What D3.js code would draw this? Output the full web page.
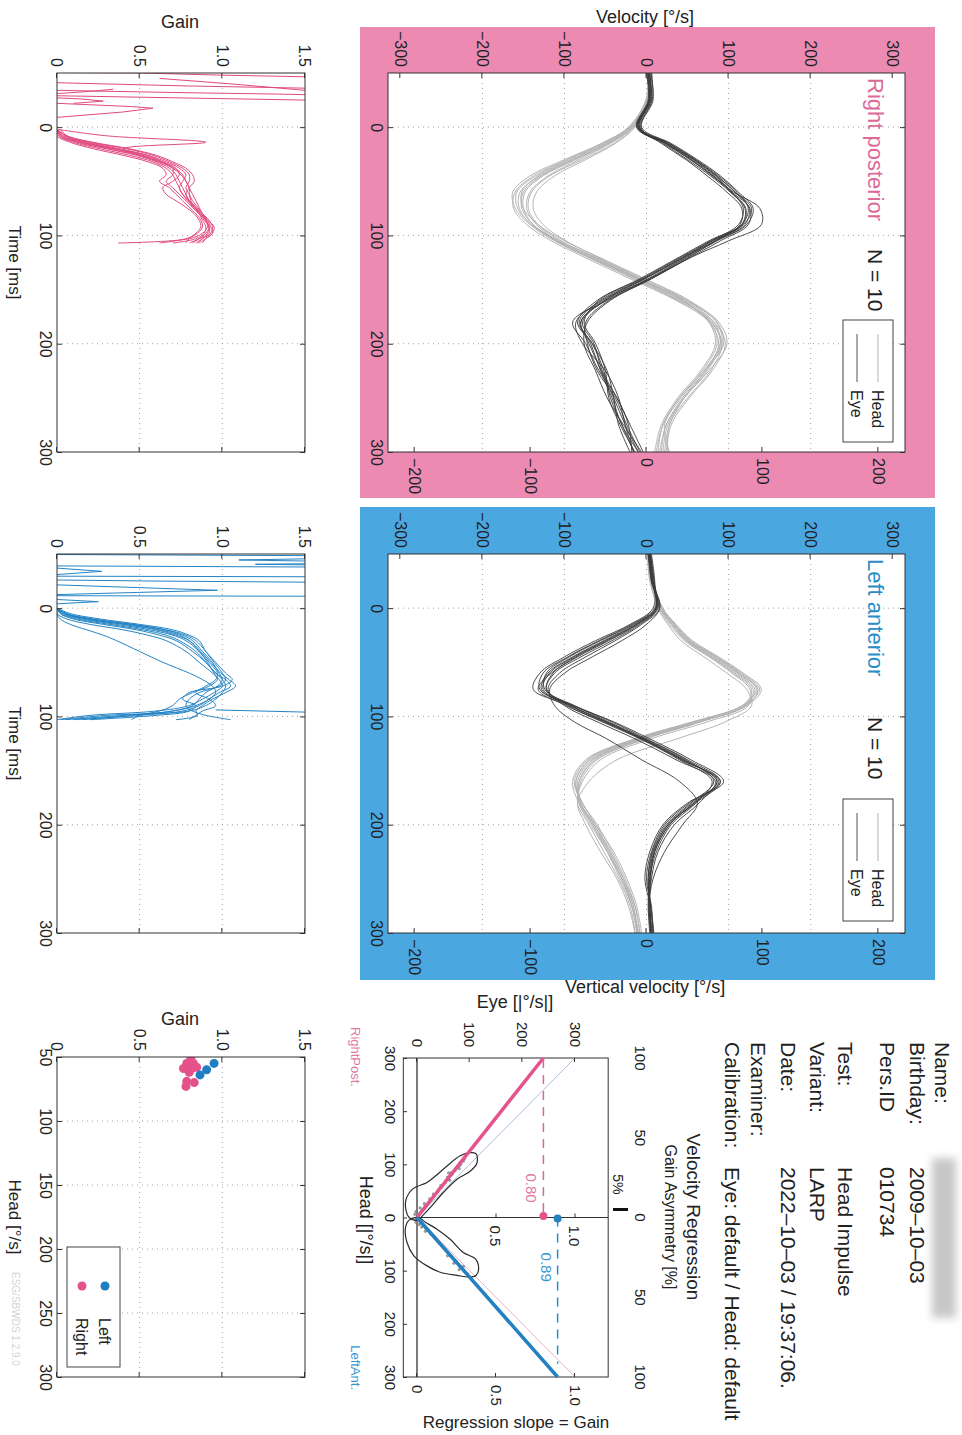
<!DOCTYPE html>
<html>
<head>
<meta charset="utf-8">
<script src="https://cdn.jsdelivr.net/npm/d3@7"></script>
<style>
  body { margin: 0; background: #fff; }
  svg { display: block; }
</style>
</head>
<body>
<svg id="chart" width="962" height="1435"></svg>
<script>
// ---------- data ----------
const velTicks = [-300, -200, -100, 0, 100, 200, 300]
const vel2Ticks = [-200, -100, 0, 100, 200]
const timeTicks = [0, 100, 200, 300]
const gainTicks = [0, 0.5, 1.0, 1.5]
const headTicks = [50, 100, 150, 200, 250, 300]
const regHeadTicks = [-300, -200, -100, 0, 100, 200, 300]
const regEyeTicks = [0, 100, 200, 300]
const regGainTicks = [0, 0.5, 1.0]
const asymTicks = [-100, -50, 0, 50, 100]

const traceTimes = [-50, -25, 0, 15, 30, 45, 60, 75, 90, 105, 120, 140, 160, 180, 200, 225, 250, 275, 300]

// Right posterior, head traces [°/s]
const rpHead = [
  [5, 2, -18, -48, -88, -128, -150, -152, -138, -108, -66, -8, 48, 85, 92, 72, 44, 24, 16],
  [3, 0, -20, -52, -95, -135, -158, -157, -140, -110, -70, -12, 42, 80, 90, 74, 46, 26, 20],
  [6, 3, -15, -40, -78, -118, -140, -144, -132, -104, -64, -10, 44, 78, 86, 68, 40, 20, 12],
  [2, -1, -22, -55, -100, -142, -163, -160, -142, -112, -72, -15, 40, 82, 96, 80, 52, 30, 24],
  [4, 1, -17, -44, -82, -120, -142, -146, -134, -108, -70, -16, 38, 76, 88, 72, 46, 28, 22],
  [5, 2, -19, -50, -92, -132, -152, -150, -132, -100, -58, -2, 52, 86, 94, 70, 40, 20, 14],
  [7, 3, -14, -38, -74, -112, -134, -138, -126, -98, -60, -8, 44, 76, 84, 66, 38, 18, 10],
  [3, 0, -21, -54, -97, -138, -160, -162, -146, -116, -76, -20, 36, 78, 92, 78, 50, 28, 26],
  [4, 2, -16, -46, -86, -126, -148, -150, -138, -110, -68, -10, 46, 82, 90, 70, 42, 22, 28],
  [6, 2, -18, -47, -90, -130, -154, -155, -140, -106, -62, -4, 50, 88, 98, 76, 46, 24, 18]
]
// Right posterior, eye traces
const rpEye = [
  [3, 6, -8, 24, 58, 85, 108, 125, 120, 84, 46, -2, -52, -80, -70, -55, -40, -26, -10],
  [0, 2, -12, 20, 50, 78, 102, 120, 116, 80, 44, -4, -56, -82, -66, -52, -44, -30, -15],
  [5, 8, -6, 30, 62, 90, 112, 130, 122, 86, 50, 4, -46, -74, -72, -60, -38, -24, -8],
  [1, 3, -10, 22, 54, 80, 106, 138, 140, 100, 55, 6, -48, -90, -74, -58, -36, -22, -18],
  [4, 5, -9, 26, 57, 84, 104, 118, 112, 78, 42, -6, -58, -76, -62, -50, -46, -32, -14],
  [2, 4, -11, 28, 60, 88, 110, 124, 116, 76, 40, -8, -60, -84, -66, -48, -40, -34, -20],
  [6, 7, -7, 18, 48, 74, 98, 116, 114, 84, 52, 6, -44, -72, -76, -62, -48, -28, -6],
  [0, 3, -12, 24, 55, 82, 104, 126, 124, 90, 54, 4, -50, -78, -64, -54, -36, -20, -4],
  [3, 5, -9, 27, 59, 86, 108, 128, 118, 80, 46, -2, -54, -86, -78, -50, -34, -26, -16],
  [2, 4, -10, 23, 53, 81, 103, 121, 117, 83, 48, 2, -50, -80, -68, -56, -42, -30, -10]
]
// Left anterior, head traces
const laHead = [
  [3, 6, 18, 34, 52, 84, 113, 136, 121, 64, -4, -66, -84, -80, -64, -44, -28, -16, -10],
  [2, 5, 16, 30, 48, 78, 106, 128, 118, 66, 2, -60, -80, -82, -68, -48, -30, -18, -12],
  [4, 8, 20, 36, 56, 88, 118, 140, 122, 58, -10, -72, -88, -78, -60, -42, -26, -14, -8],
  [1, 4, 15, 28, 46, 76, 104, 126, 124, 74, 8, -56, -78, -84, -70, -52, -34, -20, -14],
  [5, 7, 19, 35, 54, 86, 116, 138, 118, 56, -12, -74, -90, -82, -62, -40, -24, -12, -6],
  [3, 6, 17, 32, 50, 80, 110, 132, 120, 62, -6, -68, -86, -80, -64, -46, -30, -18, -10],
  [2, 5, 14, 26, 42, 70, 98, 122, 128, 96, 40, -36, -70, -84, -74, -56, -36, -22, -14],
  [4, 7, 19, 34, 53, 85, 114, 134, 116, 58, -8, -70, -86, -78, -62, -44, -28, -14, -8],
  [3, 6, 18, 33, 51, 82, 112, 135, 122, 64, -2, -64, -82, -80, -66, -46, -30, -16, -12],
  [2, 5, 17, 31, 49, 79, 108, 130, 120, 66, 0, -62, -82, -82, -66, -48, -32, -18, -10]
]
// Left anterior, eye traces
const laEye = [
  [4, 8, 12, -12, -50, -88, -118, -126, -92, -48, -6, 46, 86, 56, 26, 8, 2, 4, 6],
  [2, 6, 14, -8, -42, -80, -112, -122, -96, -54, -10, 40, 80, 60, 30, 12, 4, 2, 4],
  [6, 10, 10, -18, -58, -96, -126, -130, -88, -42, -2, 50, 90, 52, 22, 6, 0, 6, 8],
  [3, 7, 16, -6, -38, -74, -106, -120, -100, -60, -16, 36, 84, 64, 34, 14, 6, 3, 5],
  [5, 9, 8, -20, -62, -100, -130, -138, -90, -40, 2, 54, 94, 50, 20, 4, -2, 5, 9],
  [4, 7, 12, -14, -52, -90, -120, -128, -94, -50, -8, 44, 88, 58, 28, 10, 4, 4, 7],
  [3, 6, 16, 0, -30, -66, -100, -118, -112, -88, -50, -6, 40, 62, 44, 22, 8, 3, 6],
  [5, 8, 11, -16, -56, -94, -122, -124, -88, -46, -4, 48, 82, 54, 24, 7, 2, 5, 8],
  [2, 7, 13, -10, -46, -84, -116, -132, -98, -52, -6, 42, 90, 60, 26, 9, 3, 3, 5],
  [4, 9, 12, -12, -48, -86, -114, -122, -92, -50, -8, 44, 86, 58, 28, 10, 5, 4, 6]
]

// gain curves over time
const rpGainTimes = [2, 8, 14, 20, 26, 32, 38, 44, 50, 56, 62, 68, 74, 80, 86, 92, 98, 103, 107]
const rpGain = [
  [0, 0.02, 0.12, 0.30, 0.48, 0.60, 0.68, 0.72, 0.74, 0.76, 0.78, 0.80, 0.82, 0.86, 0.89, 0.92, 0.90, 0.86, 0.82],
  [0, 0.05, 0.18, 0.38, 0.55, 0.66, 0.74, 0.78, 0.76, 0.74, 0.76, 0.80, 0.84, 0.88, 0.92, 0.94, 0.93, 0.88, 0.84],
  [0, 0.00, 0.08, 0.22, 0.40, 0.55, 0.64, 0.66, 0.62, 0.68, 0.72, 0.76, 0.80, 0.84, 0.87, 0.88, 0.85, 0.78, 0.62],
  [0.02, 0.06, 0.20, 0.42, 0.58, 0.68, 0.76, 0.80, 0.80, 0.78, 0.80, 0.82, 0.85, 0.88, 0.90, 0.91, 0.88, 0.80, 0.37],
  [0, 0.03, 0.15, 0.34, 0.52, 0.63, 0.70, 0.70, 0.66, 0.70, 0.74, 0.78, 0.82, 0.86, 0.90, 0.92, 0.92, 0.86, 0.80],
  [0, 0.30, 0.90, 0.40, 0.50, 0.62, 0.71, 0.76, 0.78, 0.80, 0.82, 0.84, 0.86, 0.88, 0.91, 0.93, 0.94, 0.90, 0.86],
  [0, 0.01, 0.10, 0.26, 0.44, 0.58, 0.66, 0.70, 0.72, 0.74, 0.76, 0.79, 0.83, 0.87, 0.91, 0.95, 0.94, 0.90, 0.88],
  [0, 0.04, 0.16, 0.36, 0.54, 0.64, 0.72, 0.74, 0.70, 0.64, 0.66, 0.72, 0.78, 0.83, 0.86, 0.87, 0.84, 0.80, 0.78],
  [0, 0.02, 0.14, 0.32, 0.50, 0.62, 0.70, 0.75, 0.78, 0.80, 0.80, 0.81, 0.83, 0.86, 0.88, 0.90, 0.89, 0.84, 0.70],
  [0, 0.06, 0.22, 0.44, 0.60, 0.70, 0.78, 0.82, 0.83, 0.80, 0.78, 0.80, 0.84, 0.87, 0.90, 0.92, 0.91, 0.88, 0.85]
]
// pre-impulse gain noise, [time, gain] pairs
const rpGainNoise = [
  [[-50.5, 0], [-50, 0.5], [-48, 1.0], [-46.5, 1.5]],
  [[-45, 0.62], [-40, 1.05], [-34, 1.5]],
  [[-41, 0], [-38, 0.8], [-36, 1.5]],
  [[-34, 0], [-32, 0.7], [-30.5, 1.34], [-30, 1.5]],
  [[-29, 0], [-27, 0.75], [-25, 1.5]],
  [[-35, 0.34], [-33, 0.2], [-31, 0]],
  [[-22, 0], [-19, 0.45], [-17.5, 0.58], [-14, 0.4], [-9, 0]],
  [[-27, 0], [-26, 0.15], [-24, 0.28], [-22, 0.1]]
]

const laGainTimes = [0, 5, 10, 15, 20, 25, 30, 40, 50, 60, 66, 72, 78, 84, 90, 95, 99, 103]
const laGain = [
  [0, 0.05, 0.20, 0.45, 0.65, 0.76, 0.82, 0.88, 0.94, 0.98, 1.00, 0.97, 0.90, 0.86, 0.82, 0.70, 0.40, 0.05],
  [0, 0.02, 0.12, 0.32, 0.52, 0.66, 0.74, 0.84, 0.90, 0.96, 1.02, 1.05, 0.98, 0.92, 0.86, 0.76, 0.50, 0.10],
  [0, 0.08, 0.26, 0.50, 0.70, 0.80, 0.86, 0.90, 0.96, 1.02, 1.06, 1.00, 0.80, 0.76, 0.84, 0.80, 0.60, 0.20],
  [0, 0.00, 0.06, 0.20, 0.40, 0.55, 0.66, 0.78, 0.86, 0.94, 0.98, 1.00, 0.95, 0.88, 0.80, 0.60, 0.20, 0.00],
  [0, 0.04, 0.18, 0.40, 0.60, 0.72, 0.80, 0.87, 0.93, 0.99, 1.04, 1.08, 1.02, 0.94, 0.88, 0.84, 0.85, 0.72],
  [0, 0.03, 0.15, 0.36, 0.56, 0.70, 0.78, 0.86, 0.92, 0.97, 0.96, 0.90, 0.84, 0.92, 0.96, 0.88, 0.84, 0.80],
  [0, 0.00, 0.02, 0.08, 0.18, 0.28, 0.36, 0.50, 0.64, 0.80, 0.88, 0.94, 0.96, 0.92, 0.84, 0.70, 0.45, 0.15],
  [0, 0.06, 0.22, 0.46, 0.66, 0.78, 0.84, 0.90, 0.95, 1.00, 1.02, 0.98, 0.86, 0.80, 0.78, 0.82, 0.90, 1.05],
  [0, 0.02, 0.10, 0.28, 0.48, 0.62, 0.72, 0.82, 0.90, 0.96, 1.00, 1.02, 1.00, 0.96, 0.90, 0.80, 0.30, 0.02],
  [0, 0.05, 0.18, 0.42, 0.62, 0.74, 0.80, 0.86, 0.91, 0.95, 0.97, 0.92, 0.82, 0.74, 0.70, 0.62, 0.50, 0.45]
]
const laGainNoise = [
  [[-49.5, 0], [-48.5, 1.5]],
  [[-45.5, 1.5], [-44.5, 1.1], [-43.5, 1.5]],
  [[-41, 1.5], [-40.5, 1.2], [-40, 1.5]],
  [[-39, 0], [-38, 1.5]],
  [[-37, 0], [-34, 0.27], [-31, 0]],
  [[-29.5, 0], [-29, 1.5]],
  [[-26, 0], [-25, 0.6], [-24, 1.5]],
  [[-21.5, 0], [-16.5, 0.97], [-12.5, 0]],
  [[-11.5, 0], [-11, 1.5]],
  [[-8, 0], [-6, 0.25], [-4, 0]],
  [[94, 0.96], [96, 1.5]]
]

// gain vs peak head velocity
const rpPeakHead = [51, 55, 55, 59, 59, 58, 62, 69, 70, 73]
const rpPeakGain = [0.81, 0.785, 0.825, 0.765, 0.815, 0.845, 0.80, 0.785, 0.83, 0.78]
const laPeakHead = [55, 60, 64]
const laPeakGain = [0.95, 0.905, 0.865]

// velocity regression
const rpSlope = 0.80
const laSlope = 0.89
const gainAsymmetry = 5
const rpCloud = [[-4, 2], [-6, -4], [-9, 6], [-11, -2], [-13, 9], [-16, 12], [-18, 6], [-21, 15], [-24, 19], [-26, 14],
  [-29, 22], [-32, 26], [-35, 24], [-38, 30], [-41, 33], [-44, 31], [-47, 38], [-50, 40], [-54, 42], [-57, 47],
  [-60, 45], [-63, 51], [-66, 54], [-70, 55], [-73, 60], [-76, 58], [-79, 64], [-82, 67], [-85, 66], [-88, 72],
  [-91, 74], [-94, 76], [-97, 80], [-100, 83], [-103, 82], [-106, 88], [-110, 90], [-84, 60], [-92, 80], [-70, 62]]
const laCloud = [[4, -3], [6, 4], [9, -2], [11, 8], [13, 4], [16, 12], [18, 9], [21, 17], [24, 20], [26, 16],
  [29, 25], [32, 27], [35, 31], [38, 33], [41, 36], [44, 39], [47, 41], [50, 44], [54, 48], [57, 50],
  [60, 54], [63, 55], [66, 59], [70, 62], [73, 65], [76, 68], [79, 70], [82, 74], [85, 76], [88, 79],
  [91, 82], [94, 84], [97, 87], [100, 90], [103, 92], [106, 96], [86, 70], [92, 88], [72, 58], [98, 80]]
const rpContour = [[0, -15], [-28, -22], [-53, -9], [-66, 19], [-78, 35], [-97, 57], [-116, 82], [-122, 100],
  [-120, 112], [-103, 114], [-87, 101], [-72, 76], [-47, 50], [-22, 28], [-6, 13], [5, 0]]
const laContour = [[5, -15], [20, -22], [47, -19], [72, -6], [91, 19], [103, 44], [109, 76], [112, 100],
  [109, 112], [97, 117], [78, 111], [66, 88], [41, 63], [22, 38], [9, 16], [0, 3]]

const infoLabels = ["Name:", "Birthday:", "Pers.ID", "Test:", "Variant:", "Date:", "Examiner:", "Calibration:"]
const infoValues = ["", "2009–10–03", "010734", "Head Impulse", "LARP", "2022–10–03 / 19:37:06.", "", "Eye: default / Head: default"]

// ---------- drawing ----------
const FONT = '"Liberation Sans", Arial, Helvetica, sans-serif'
const PINK = "#e0497f", BLUE = "#2483c4"

const svg = d3.select("#chart")
svg.append("rect").attr("width", 962).attr("height", 1435).attr("fill", "#fff")
const defs = svg.append("defs")
defs.append("filter").attr("id", "blur").attr("x", "-50%").attr("y", "-50%").attr("width", "200%").attr("height", "200%")
  .append("feGaussianBlur").attr("stdDeviation", 4)

// the report is printed landscape and scanned rotated 90° clockwise
const page = svg.append("g")
  .attr("transform", "translate(962,0) rotate(90)")
  .attr("font-family", FONT)
  .attr("fill", "#222")

function grid(g, x, y, xs, ys) {
  const [x0, x1] = x.range(), [y0, y1] = y.range()
  const gg = g.append("g").attr("stroke", "#9a9a9a").attr("stroke-width", 0.9).attr("stroke-dasharray", "1,4")
  gg.selectAll(".gx").data(xs).join("line").attr("class", "gx")
    .attr("x1", d => x(d)).attr("x2", d => x(d)).attr("y1", y0).attr("y2", y1)
  gg.selectAll(".gy").data(ys).join("line").attr("class", "gy")
    .attr("x1", x0).attr("x2", x1).attr("y1", d => y(d)).attr("y2", d => y(d))
}

function axis(g, gen, tx, ty, size) {
  const a = g.append("g").attr("transform", `translate(${tx},${ty})`).call(gen)
  a.select(".domain").remove()
  a.attr("font-family", null).attr("font-size", size)
  a.selectAll(".tick line").attr("stroke", "#333")
  a.selectAll(".tick text").attr("fill", "#222")
  return a
}

function clip(id, x, y, w, h) {
  defs.append("clipPath").attr("id", id).append("rect").attr("x", x).attr("y", y).attr("width", w).attr("height", h)
  return `url(#${id})`
}

const gainFmt = d => d === 0 ? "0" : d3.format(".1f")(d)

function velocityPanel(p) {
  const g = page.append("g")
  const [bx0, bx1] = p.box
  const x = d3.scaleLinear().domain([-50, 300]).range(p.box)
  const y = d3.scaleLinear().domain([-315, 315]).range([574, 57])
  const y2 = d3.scaleLinear().domain([-223, 223]).range([574, 57])

  g.append("rect").attr("x", p.frame[0]).attr("y", 27).attr("width", p.frame[1] - p.frame[0]).attr("height", 575)
    .attr("fill", p.frameColor)
  g.append("rect").attr("x", bx0).attr("y", 57).attr("width", bx1 - bx0).attr("height", 517).attr("fill", "#fff")
  grid(g, x, y, [0, 100, 200], [-200, -100, 0, 100, 200])

  const line = d3.line().x((d, i) => x(traceTimes[i])).y(d => y(d)).curve(d3.curveCatmullRom)
  const tr = g.append("g").attr("clip-path", clip(p.id, bx0, 57, bx1 - bx0, 517)).attr("fill", "none")
  tr.selectAll(".head").data(p.head).join("path").attr("class", "head")
    .attr("d", line).attr("stroke", "#b3b3b3").attr("stroke-width", 1)
  tr.selectAll(".eye").data(p.eye).join("path").attr("class", "eye")
    .attr("d", line).attr("stroke", "#3a3a3a").attr("stroke-width", 1).attr("stroke-opacity", 0.9)

  g.append("rect").attr("x", bx0).attr("y", 57).attr("width", bx1 - bx0).attr("height", 517)
    .attr("fill", "none").attr("stroke", "#333")
  axis(g, d3.axisLeft(y).tickValues(velTicks).tickSize(-5).tickPadding(6), bx0, 0, 16)
  axis(g, d3.axisRight(y2).tickValues(vel2Ticks).tickSize(-5).tickPadding(6), bx1, 0, 16)
  axis(g, d3.axisBottom(x).tickValues(timeTicks).tickSize(-5).tickPadding(6), 0, 574, 16)
  axis(g, d3.axisTop(x).tickValues(timeTicks).tickSize(-5).tickFormat(""), 0, 57, 16)

  g.append("text").attr("x", bx0 + 5).attr("y", 94).attr("font-size", 22).attr("fill", p.titleColor).text(p.title)
  g.append("text").attr("x", p.nX).attr("y", 94).attr("font-size", 21).attr("fill", "#222").text("N = 10")

  const lx = p.legendX
  g.append("rect").attr("x", lx).attr("y", 69).attr("width", 122).attr("height", 50)
    .attr("fill", "#fff").attr("stroke", "#444")
  g.append("line").attr("x1", lx + 14).attr("x2", lx + 62).attr("y1", 84).attr("y2", 84).attr("stroke", "#b3b3b3")
  g.append("line").attr("x1", lx + 14).attr("x2", lx + 62).attr("y1", 105).attr("y2", 105).attr("stroke", "#555")
  g.append("text").attr("x", lx + 70).attr("y", 90).attr("font-size", 16).text("Head")
  g.append("text").attr("x", lx + 70).attr("y", 111).attr("font-size", 16).text("Eye")
  return g
}

const p1 = velocityPanel({
  id: "clip-rp", frame: [27, 498], box: [73, 452], frameColor: "#ec8ab2",
  title: "Right posterior", titleColor: "#dc6a98", nX: 249, legendX: 320, head: rpHead, eye: rpEye
})
p1.append("text").attr("transform", "translate(23,317) rotate(-90)").attr("text-anchor", "middle")
  .attr("font-size", 18).text("Velocity [°/s]")

const p2 = velocityPanel({
  id: "clip-la", frame: [507, 980], box: [554, 933], frameColor: "#4ba7df",
  title: "Left anterior", titleColor: "#2a8dc6", nX: 717, legendX: 799, head: laHead, eye: laEye
})
p2.append("text").attr("transform", "translate(993,317) rotate(-90)").attr("text-anchor", "middle")
  .attr("font-size", 18).text("Vertical velocity [°/s]")

function gainPanel(p) {
  const g = page.append("g")
  const [bx0, bx1] = p.box
  const x = d3.scaleLinear().domain([-50, 300]).range(p.box)
  const y = d3.scaleLinear().domain([0, 1.5]).range([905, 657])
  grid(g, x, y, [0, 100, 200], [0.5, 1.0])

  const cg = g.append("g").attr("clip-path", clip(p.id, bx0, 657, bx1 - bx0, 248))
    .attr("fill", "none").attr("stroke", p.color).attr("stroke-width", 1)
  const line = d3.line().x((d, i) => x(p.times[i])).y(d => y(d)).curve(d3.curveCatmullRom)
  cg.selectAll(".gc").data(p.curves).join("path").attr("class", "gc").attr("d", line)
  const nline = d3.line().x(d => x(d[0])).y(d => y(d[1]))
  cg.selectAll(".gn").data(p.noise).join("path").attr("class", "gn").attr("d", nline)

  g.append("rect").attr("x", bx0).attr("y", 657).attr("width", bx1 - bx0).attr("height", 248)
    .attr("fill", "none").attr("stroke", "#333")
  axis(g, d3.axisLeft(y).tickValues(gainTicks).tickSize(-5).tickPadding(6).tickFormat(gainFmt), bx0, 0, 16)
  axis(g, d3.axisRight(y).tickValues(gainTicks).tickSize(-5).tickFormat(""), bx1, 0, 16)
  axis(g, d3.axisBottom(x).tickValues(timeTicks).tickSize(-5).tickPadding(6), 0, 905, 16)
  axis(g, d3.axisTop(x).tickValues(timeTicks).tickSize(-5).tickFormat(""), 0, 657, 16)
  g.append("text").attr("x", (bx0 + bx1) / 2).attr("y", 953).attr("text-anchor", "middle")
    .attr("font-size", 17).text("Time [ms]")
  return g
}

const p3 = gainPanel({ id: "clip-rpg", box: [73, 452], times: rpGainTimes, curves: rpGain, noise: rpGainNoise, color: PINK })
p3.append("text").attr("transform", "translate(28,782) rotate(-90)").attr("text-anchor", "middle")
  .attr("font-size", 18).text("Gain")
gainPanel({ id: "clip-lag", box: [554, 933], times: laGainTimes, curves: laGain, noise: laGainNoise, color: BLUE })

// gain vs head velocity scatter
{
  const g = page.append("g")
  const x = d3.scaleLinear().domain([50, 300]).range([1057, 1377])
  const y = d3.scaleLinear().domain([0, 1.5]).range([905, 657])
  grid(g, x, y, [100, 150, 200, 250], [0.5, 1.0])
  const dots = g.append("g").attr("clip-path", clip("clip-sc", 1057, 657, 320, 248))
  dots.selectAll(".rp").data(rpPeakHead).join("circle").attr("class", "rp")
    .attr("cx", d => x(d)).attr("cy", (d, i) => y(rpPeakGain[i])).attr("r", 4.5).attr("fill", "#e5528a")
  dots.selectAll(".la").data(laPeakHead).join("circle").attr("class", "la")
    .attr("cx", d => x(d)).attr("cy", (d, i) => y(laPeakGain[i])).attr("r", 4.5).attr("fill", "#1f7dc2")
  g.append("rect").attr("x", 1057).attr("y", 657).attr("width", 320).attr("height", 248)
    .attr("fill", "none").attr("stroke", "#333")
  axis(g, d3.axisLeft(y).tickValues(gainTicks).tickSize(-5).tickPadding(6).tickFormat(gainFmt), 1057, 0, 16)
  axis(g, d3.axisRight(y).tickValues(gainTicks).tickSize(-5).tickFormat(""), 1377, 0, 16)
  axis(g, d3.axisBottom(x).tickValues(headTicks).tickSize(-5).tickPadding(6), 0, 905, 16)
  axis(g, d3.axisTop(x).tickValues(headTicks).tickSize(-5).tickFormat(""), 0, 657, 16)
  g.append("text").attr("transform", "translate(1025,782) rotate(-90)").attr("text-anchor", "middle")
    .attr("font-size", 18).text("Gain")
  g.append("text").attr("x", 1217).attr("y", 953).attr("text-anchor", "middle").attr("font-size", 17).text("Head [°/s]")

  g.append("rect").attr("x", 1247).attr("y", 842).attr("width", 120).attr("height", 53)
    .attr("fill", "#fff").attr("stroke", "#444")
  g.append("circle").attr("cx", 1286).attr("cy", 857).attr("r", 4.5).attr("fill", "#1f7dc2")
  g.append("circle").attr("cx", 1286).attr("cy", 880).attr("r", 4.5).attr("fill", "#e5528a")
  g.append("text").attr("x", 1318).attr("y", 863).attr("font-size", 16).text("Left")
  g.append("text").attr("x", 1318).attr("y", 886).attr("font-size", 16).text("Right")
  g.append("text").attr("x", 1272).attr("y", 950).attr("font-size", 10).attr("fill", "#d4d4d4").text("ESG/SBWDS 1.2.9.0")
}

// patient / test info
{
  const g = page.append("g").attr("font-size", 21)
  const rowY = [27, 52, 82, 124, 152, 181, 211, 237]
  g.selectAll(".lab").data(infoLabels).join("text").attr("class", "lab")
    .attr("x", 1042).attr("y", (d, i) => rowY[i]).text(d => d)
  g.selectAll(".val").data(infoValues).join("text").attr("class", "val")
    .attr("x", 1167).attr("y", (d, i) => rowY[i]).text(d => d)
  g.append("rect").attr("x", 1158).attr("y", 6).attr("width", 160).attr("height", 24)
    .attr("fill", "#9a9a9a").attr("opacity", 0.55).attr("filter", "url(#blur)")
}

// velocity regression
{
  const g = page.append("g")
  const hx = d3.scaleLinear().domain([-300, 300]).range([1058, 1377])
  const ey = d3.scaleLinear().domain([0, 300]).range([545, 387])
  const gy = d3.scaleLinear().domain([0, 1]).range([545, 387])
  const ax = d3.scaleLinear().domain([-100, 100]).range([1058, 1377])
  const eyeTop = 363, eyeBottom = -26

  g.append("text").attr("x", 1217).attr("y", 275).attr("text-anchor", "middle").attr("font-size", 19).text("Velocity Regression")
  g.append("text").attr("x", 1217).attr("y", 297).attr("text-anchor", "middle").attr("font-size", 16).text("Gain Asymmetry [%]")
  g.selectAll(".asym").data(asymTicks).join("text").attr("class", "asym")
    .attr("x", d => ax(d)).attr("y", 327).attr("text-anchor", "middle").attr("font-size", 15).text(d => Math.abs(d))
  g.append("line").attr("x1", ax(-gainAsymmetry)).attr("x2", ax(-gainAsymmetry)).attr("y1", 334).attr("y2", 349)
    .attr("stroke", "#111").attr("stroke-width", 3)
  g.append("text").attr("x", ax(-gainAsymmetry) - 15).attr("y", 349).attr("text-anchor", "end")
    .attr("font-size", 14).text(gainAsymmetry + "%")

  g.append("rect").attr("x", 1058).attr("y", ey(eyeTop)).attr("width", 319).attr("height", ey(eyeBottom) - ey(eyeTop))
    .attr("fill", "#fff").attr("stroke", "#333")
  g.append("line").attr("x1", hx(-300)).attr("x2", hx(300)).attr("y1", ey(0)).attr("y2", ey(0)).attr("stroke", "#333").attr("stroke-width", 1.3)
  g.append("line").attr("x1", hx(0)).attr("x2", hx(0)).attr("y1", ey(0)).attr("y2", ey(eyeTop)).attr("stroke", "#333")

  // gain = 1 reference lines
  g.append("line").attr("x1", hx(0)).attr("y1", ey(0)).attr("x2", hx(-300)).attr("y2", ey(300))
    .attr("stroke", "#a9bde6").attr("stroke-width", 1)
  g.append("line").attr("x1", hx(0)).attr("y1", ey(0)).attr("x2", hx(300)).attr("y2", ey(300))
    .attr("stroke", "#eab3c7").attr("stroke-width", 1)

  const cloud = g.append("g").attr("fill", "#808080").attr("fill-opacity", 0.8)
  cloud.selectAll(".c").data(rpCloud.concat(laCloud)).join("circle").attr("class", "c")
    .attr("cx", d => hx(d[0])).attr("cy", d => ey(d[1])).attr("r", 1.6)
  const blob = d3.line().x(d => hx(d[0])).y(d => ey(d[1])).curve(d3.curveCatmullRomClosed)
  g.selectAll(".blob").data([rpContour, laContour]).join("path").attr("class", "blob")
    .attr("d", blob).attr("fill", "none").attr("stroke", "#2b2b2b").attr("stroke-width", 1.2)

  g.append("line").attr("x1", hx(0)).attr("y1", ey(0)).attr("x2", hx(-300)).attr("y2", ey(300 * rpSlope))
    .attr("stroke", "#e2548b").attr("stroke-width", 3.5)
  g.append("line").attr("x1", hx(0)).attr("y1", ey(0)).attr("x2", hx(300)).attr("y2", ey(300 * laSlope))
    .attr("stroke", "#2480c2").attr("stroke-width", 3.5)

  g.append("line").attr("x1", hx(-298)).attr("x2", hx(0)).attr("y1", gy(rpSlope)).attr("y2", gy(rpSlope))
    .attr("stroke", "#d9679a").attr("stroke-width", 1.5).attr("stroke-dasharray", "9,7")
  g.append("line").attr("x1", hx(0)).attr("x2", hx(275)).attr("y1", gy(laSlope)).attr("y2", gy(laSlope))
    .attr("stroke", "#2f8ac8").attr("stroke-width", 1.5).attr("stroke-dasharray", "9,7")
  g.append("circle").attr("cx", hx(-3)).attr("cy", gy(rpSlope)).attr("r", 4).attr("fill", "#e2548b")
  g.append("circle").attr("cx", hx(2)).attr("cy", gy(laSlope)).attr("r", 4).attr("fill", "#2480c2")
  g.append("text").attr("x", hx(-28)).attr("y", gy(rpSlope) + 17).attr("text-anchor", "end")
    .attr("font-size", 15).attr("fill", "#e07aa3").text(rpSlope.toFixed(2))
  g.append("text").attr("x", hx(66)).attr("y", gy(laSlope) + 17).attr("text-anchor", "start")
    .attr("font-size", 15).attr("fill", "#3b95cf").text(laSlope.toFixed(2))

  // gain ticks on the zero-head line
  g.selectAll(".mid").data([0.5, 1.0]).join("text").attr("class", "mid")
    .attr("x", hx(0) + 8).attr("y", d => gy(d) + 6).attr("font-size", 15).text(d => d.toFixed(1))
  g.selectAll(".midt").data([0.5, 1.0]).join("line").attr("class", "midt")
    .attr("x1", hx(0) - 4).attr("x2", hx(0)).attr("y1", d => gy(d)).attr("y2", d => gy(d)).attr("stroke", "#333")

  axis(g, d3.axisLeft(ey).tickValues(regEyeTicks).tickSize(-4).tickPadding(11), 1058, 0, 15)
  axis(g, d3.axisBottom(hx).tickValues(regHeadTicks).tickSize(-4).tickPadding(7).tickFormat(d => Math.abs(d)), 0, 559, 15)
  axis(g, d3.axisRight(gy).tickValues(regGainTicks).tickSize(-4).tickPadding(8).tickFormat(gainFmt), 1377, 0, 15)

  g.append("text").attr("transform", "translate(1008,447) rotate(-90)").attr("text-anchor", "middle")
    .attr("font-size", 18).text("Eye [|°/s|]")
  g.append("text").attr("x", 1220).attr("y", 602).attr("text-anchor", "middle").attr("font-size", 18).text("Head [|°/s|]")
  g.append("text").attr("x", 1027).attr("y", 611).attr("font-size", 13).attr("fill", "#e07aa3").text("RightPost.")
  g.append("text").attr("x", 1390).attr("y", 611).attr("text-anchor", "end").attr("font-size", 13).attr("fill", "#3b95cf").text("LeftAnt.")
  g.append("text").attr("transform", "translate(1428,446) rotate(-90)").attr("text-anchor", "middle")
    .attr("font-size", 17).text("Regression slope = Gain")
}
</script>
</body>
</html>
